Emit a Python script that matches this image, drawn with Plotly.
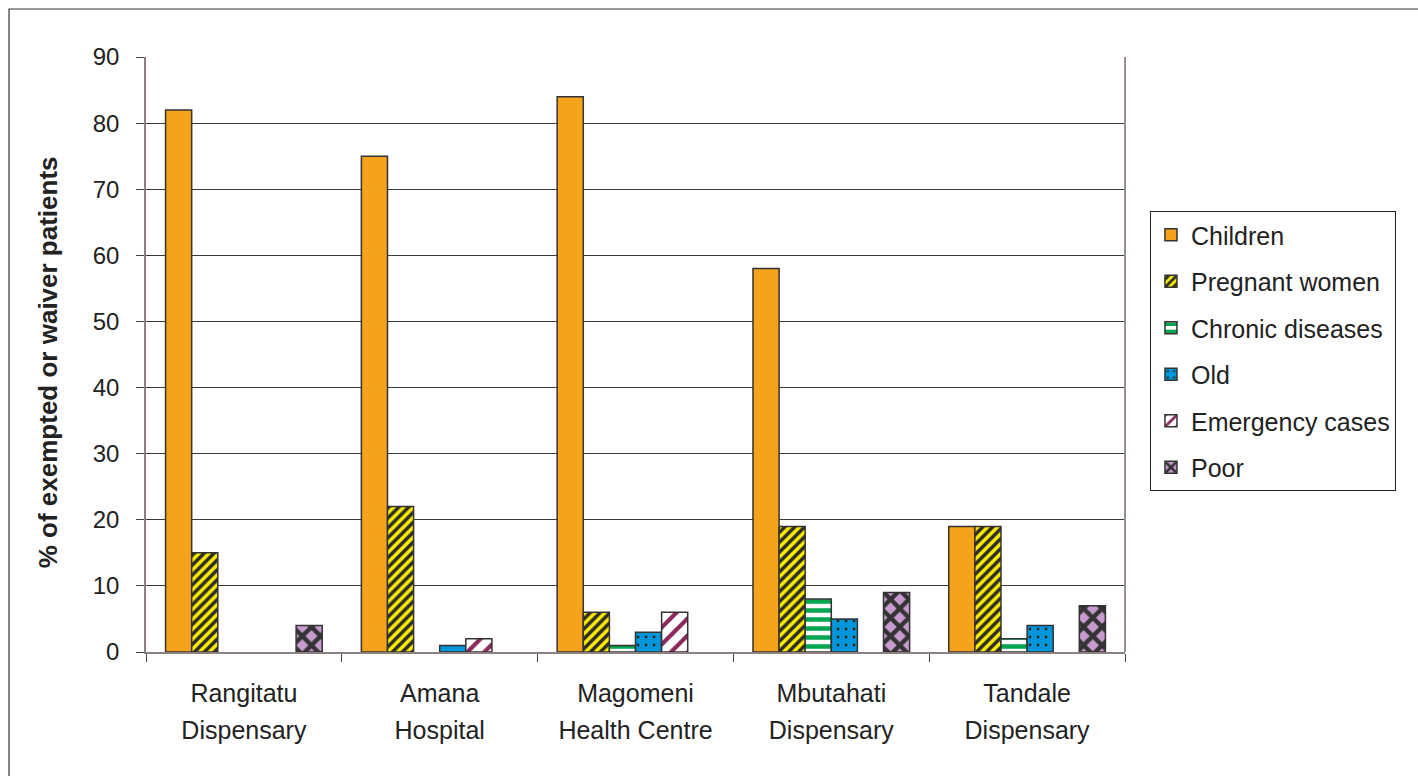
import plotly.graph_objects as go

categories = ["Rangitatu<br>Dispensary", "Amana<br>Hospital", "Magomeni<br>Health Centre",
              "Mbutahati<br>Dispensary", "Tandale<br>Dispensary"]
series_names = ["Children", "Pregnant women", "Chronic diseases", "Old", "Emergency cases", "Poor"]
children = [82, 75, 84, 58, 19]
pregnant = [15, 22, 6, 19, 19]
chronic = [0, 0, 1, 8, 2]
old = [0, 1, 3, 5, 4]
emergency = [0, 2, 6, 0, 0]
poor = [4, 0, 0, 9, 7]
y_ticks = [0, 10, 20, 30, 40, 50, 60, 70, 80, 90]

values = [children, pregnant, chronic, old, emergency, poor]
styles = [
    dict(color="#F5A31A", pattern=dict(shape="")),
    dict(color="#FFEE00", pattern=dict(shape="/", fgcolor="#2a2a2a", bgcolor="#FFEE00", size=7,
                                       solidity=0.5, fgopacity=1)),
    dict(color="#00A550", pattern=dict(shape="-", fgcolor="#00A550", bgcolor="white", size=9,
                                       solidity=0.5, fgopacity=1)),
    dict(color="#0096DB", pattern=dict(shape=".", fgcolor="#2a2a2a", bgcolor="#0096DB", size=8,
                                       solidity=0.1, fgopacity=1)),
    dict(color="#8B2A5A", pattern=dict(shape="/", fgcolor="#8B2A5A", bgcolor="white", size=12,
                                       solidity=0.35, fgopacity=1)),
    dict(color="#C89AD0", pattern=dict(shape="x", fgcolor="#333333", bgcolor="#C89AD0", size=13,
                                       solidity=0.55, fgopacity=1)),
]

fig = go.Figure()
for name, vals, st in zip(series_names, values, styles):
    fig.add_trace(go.Bar(
        x=categories, y=[v if v else None for v in vals], name=name, legendgroup=name,
        marker=dict(color=st["color"], pattern=st["pattern"],
                    line=dict(color="#333333", width=1.5)),
    ))

font_family = "Liberation Sans, Arial, sans-serif"
fig.update_layout(
    width=1418, height=776,
    margin=dict(l=146, r=293, t=57, b=124),
    paper_bgcolor="white", plot_bgcolor="white",
    barmode="group", bargap=0.2, bargroupgap=0,
    font=dict(family=font_family, size=24, color="#222222"),
    showlegend=True,
    legend=dict(x=1.0255, y=0.741, xanchor="left", yanchor="top",
                bordercolor="#222222", borderwidth=1, bgcolor="white",
                font=dict(size=25), tracegroupgap=11, itemwidth=30),
    xaxis=dict(
        showline=True, linecolor="#8c8080", linewidth=1.5, mirror=False,
        ticks="outside", ticklen=8, tickcolor="#444444", tickson="boundaries",
        tickfont=dict(size=29), showgrid=False, ticklabelstandoff=13,
        tickvals=categories,
        ticktext=["<span style='font-size:25px'>" + c + "</span>" for c in categories],
    ),
    yaxis=dict(
        range=[0, 90], tickvals=y_ticks,
        showline=True, linecolor="#8c8080", linewidth=1.5, mirror=False,
        ticks="outside", ticklen=8, tickcolor="#444444",
        showgrid=True, gridcolor="#3a3a3a", gridwidth=1,
        tickfont=dict(size=24), ticklabelstandoff=12, zeroline=False,
    ),
    annotations=[dict(
        text="<b>% of exempted or waiver patients</b>", textangle=-90,
        xref="paper", yref="paper", x=-0.1001, y=0.487, showarrow=False,
        font=dict(size=26, color="#222222"), xanchor="center", yanchor="middle",
    )],
    shapes=[
        dict(type="rect", xref="paper", yref="paper", x0=-0.1399, x1=1.32, y0=-0.25, y1=1.0807,
             line=dict(color="#333333", width=1.2), fillcolor="rgba(0,0,0,0)", layer="below"),
        dict(type="line", xref="paper", yref="paper", x0=1, x1=1, y0=0, y1=1,
             line=dict(color="#9a9090", width=2)),
    ],
)

fig.write_html("out.html")
